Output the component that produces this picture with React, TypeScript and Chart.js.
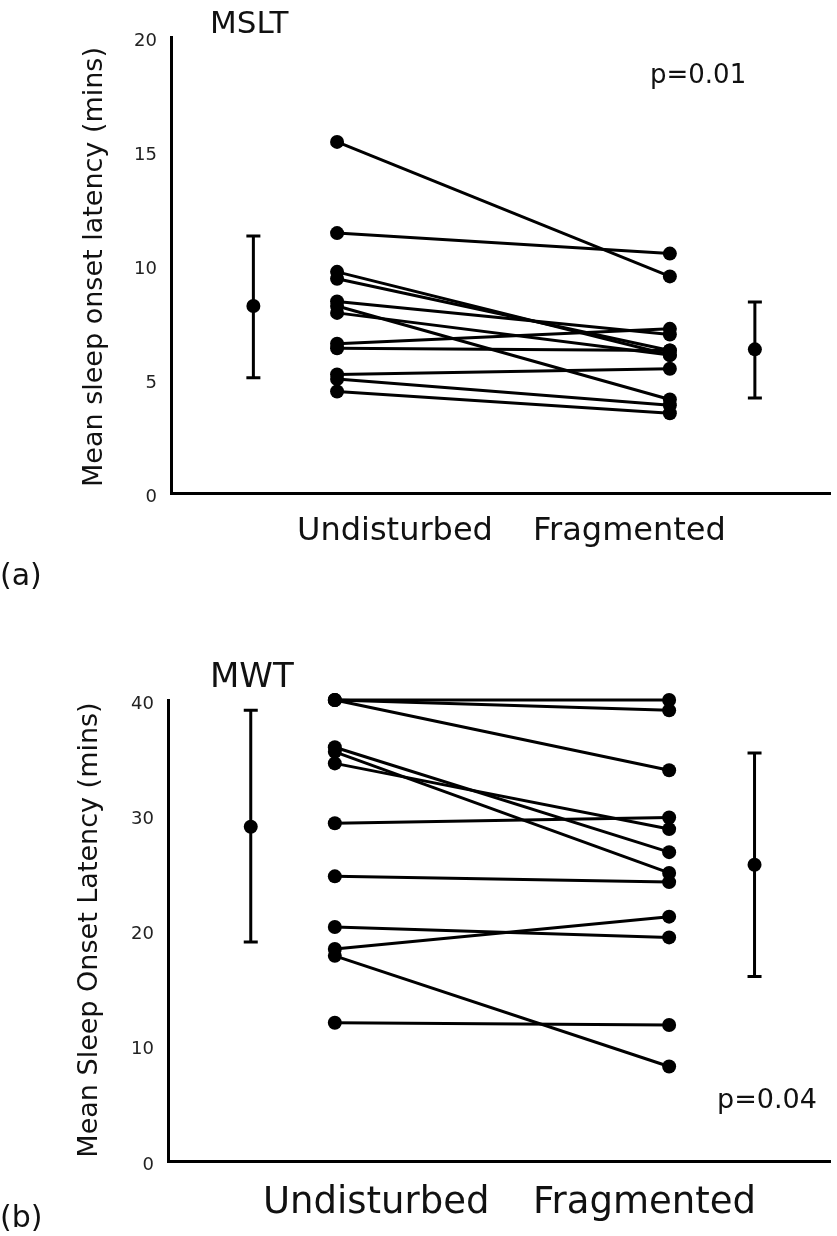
import React, { useEffect, useRef } from "react";
import { Chart, registerables } from "chart.js";

Chart.register(...registerables);

// ---------------- data ----------------
const CATEGORIES = ["Undisturbed", "Fragmented"];

// Panel (a): MSLT, one value per subject
const MSLT_UNDISTURBED = [15.4, 11.4, 9.7, 9.4, 8.4, 8.2, 7.9, 6.55, 6.35, 5.2, 5.0, 4.45];
const MSLT_FRAGMENTED = [9.5, 10.5, 6.05, 6.25, 6.95, 4.1, 6.05, 7.2, 6.25, 5.45, 3.85, 3.5];
const MSLT_MEAN = [8.2, 6.3];
const MSLT_LOW = [5.05, 4.17];
const MSLT_HIGH = [11.27, 8.38];
const MSLT_TICKS = [0, 5, 10, 15, 20];

// Panel (b): MWT, one value per subject
const MWT_UNDISTURBED = [40, 40, 40, 35.9, 35.5, 34.5, 29.3, 24.7, 20.3, 18.4, 17.8, 12];
const MWT_FRAGMENTED = [40, 39.1, 33.9, 26.8, 25.0, 28.8, 29.8, 24.2, 19.4, 21.2, 8.2, 11.8];
const MWT_MEAN = [29.0, 25.7];
const MWT_LOW = [19.0, 16.0];
const MWT_HIGH = [39.1, 35.4];
const MWT_TICKS = [0, 10, 20, 30, 40];

// ---------------- layout ----------------
const FONT = '"DejaVu Sans", "Liberation Sans", sans-serif';
const X_POS = { meanU: 1.25, undisturbed: 2.52, fragmented: 7.57, meanF: 8.86 };
const W = 837;

Chart.defaults.font.family = FONT;
Chart.defaults.font.size = 18;
Chart.defaults.color = "#222";

type TextItem = { text: string; x: number; y: number; size: number; rotate?: boolean };

const errorBarPlugin = {
  id: "errorBars",
  afterDatasetsDraw(chart: any, _args: any, opts: any) {
    const { ctx } = chart;
    const xs = chart.scales.x;
    const ys = chart.scales.y;
    ctx.save();
    ctx.strokeStyle = "#000";
    ctx.lineWidth = 3;
    opts.xs.forEach((xv: number, i: number) => {
      const px = xs.getPixelForValue(xv);
      const pl = ys.getPixelForValue(opts.low[i]);
      const ph = ys.getPixelForValue(opts.high[i]);
      ctx.beginPath();
      ctx.moveTo(px, pl);
      ctx.lineTo(px, ph);
      ctx.moveTo(px - 7, pl);
      ctx.lineTo(px + 7, pl);
      ctx.moveTo(px - 7, ph);
      ctx.lineTo(px + 7, ph);
      ctx.stroke();
    });
    ctx.restore();
  },
};

const textPlugin = {
  id: "annot",
  afterDraw(chart: any, _args: any, opts: any) {
    const { ctx } = chart;
    ctx.save();
    ctx.fillStyle = "#111";
    (opts.items as TextItem[]).forEach((t) => {
      ctx.font = `${t.size}px ${FONT}`;
      if (t.rotate) {
        ctx.save();
        ctx.translate(t.x, t.y);
        ctx.rotate(-Math.PI / 2);
        ctx.textAlign = "center";
        ctx.textBaseline = "middle";
        ctx.fillText(t.text, 0, 0);
        ctx.restore();
      } else {
        ctx.textAlign = "left";
        ctx.textBaseline = "alphabetic";
        ctx.fillText(t.text, t.x, t.y);
      }
    });
    ctx.restore();
  },
};

type PanelProps = {
  top: number;
  height: number;
  axisLeft: number;
  areaTop: number;
  areaBottom: number;
  yMax: number;
  ticks: number[];
  undisturbed: number[];
  fragmented: number[];
  mean: number[];
  low: number[];
  high: number[];
  texts: TextItem[];
};

function Panel(p: PanelProps) {
  const ref = useRef<HTMLCanvasElement | null>(null);
  useEffect(() => {
    if (!ref.current) return;
    const subjectSets = p.undisturbed.map((u, i) => ({
      type: "line" as const,
      data: [
        { x: X_POS.undisturbed, y: u },
        { x: X_POS.fragmented, y: p.fragmented[i] },
      ],
      borderColor: "#000",
      borderWidth: 3,
      pointRadius: 7,
      pointStyle: "circle",
      pointBackgroundColor: "#000",
      pointBorderColor: "#000",
      pointBorderWidth: 0,
      showLine: true,
      clip: false as any,
    }));
    const meanSet = {
      type: "scatter" as const,
      data: [
        { x: X_POS.meanU, y: p.mean[0] },
        { x: X_POS.meanF, y: p.mean[1] },
      ],
      pointRadius: 7,
      pointBackgroundColor: "#000",
      pointBorderColor: "#000",
      pointBorderWidth: 0,
      showLine: false,
      clip: false as any,
    };
    const chart = new Chart(ref.current, {
      type: "scatter",
      data: { datasets: [...subjectSets, meanSet] as any },
      plugins: [errorBarPlugin, textPlugin],
      options: {
        responsive: false,
        animation: false,
        devicePixelRatio: 1,
        layout: { padding: { top: p.areaTop, left: 0, right: 0, bottom: 0 } },
        plugins: {
          legend: { display: false },
          tooltip: { enabled: false },
          errorBars: { xs: [X_POS.meanU, X_POS.meanF], low: p.low, high: p.high },
          annot: { items: p.texts },
        } as any,
        scales: {
          x: {
            type: "linear",
            min: 0,
            max: 10,
            grid: { display: false, drawTicks: false },
            ticks: { display: false },
            border: { color: "#000", width: 3 },
            afterFit: (s: any) => {
              s.height = p.height - p.areaBottom;
            },
          },
          y: {
            type: "linear",
            min: 0,
            max: p.yMax,
            afterBuildTicks: (s: any) => {
              s.ticks = p.ticks.map((v) => ({ value: v }));
            },
            grid: { display: false, drawTicks: false },
            border: { color: "#000", width: 3 },
            ticks: {
              font: () => ({ family: FONT, size: 18 }),
              color: "#222",
              padding: 14,
              labelOffset: 4,
            },
            afterFit: (s: any) => {
              s.width = p.axisLeft;
            },
          },
        },
      } as any,
    });
    return () => chart.destroy();
  }, []);
  return (
    <canvas
      ref={ref}
      width={W}
      height={p.height}
      style={{ position: "absolute", left: 0, top: p.top, width: W, height: p.height }}
    />
  );
}

export default function App() {
  return (
    <div style={{ position: "absolute", left: 0, top: 0, width: W, height: 1236, background: "#fff" }}>
      <Panel
        top={0}
        height={600}
        axisLeft={171}
        areaTop={37}
        areaBottom={493}
        yMax={20}
        ticks={MSLT_TICKS}
        undisturbed={MSLT_UNDISTURBED}
        fragmented={MSLT_FRAGMENTED}
        mean={MSLT_MEAN}
        low={MSLT_LOW}
        high={MSLT_HIGH}
        texts={[
          { text: "MSLT", x: 210, y: 33, size: 31 },
          { text: "p=0.01", x: 650, y: 83, size: 26 },
          { text: CATEGORIES[0], x: 297, y: 540, size: 32 },
          { text: CATEGORIES[1], x: 533, y: 540, size: 32 },
          { text: "(a)", x: 0, y: 585, size: 30 },
          { text: "Mean sleep onset latency (mins)", x: 95, y: 267, size: 27, rotate: true },
        ]}
      />
      <Panel
        top={600}
        height={636}
        axisLeft={168}
        areaTop={100}
        areaBottom={561}
        yMax={40}
        ticks={MWT_TICKS}
        undisturbed={MWT_UNDISTURBED}
        fragmented={MWT_FRAGMENTED}
        mean={MWT_MEAN}
        low={MWT_LOW}
        high={MWT_HIGH}
        texts={[
          { text: "MWT", x: 210, y: 87, size: 34 },
          { text: "p=0.04", x: 717, y: 508, size: 27 },
          { text: CATEGORIES[0], x: 263, y: 613, size: 37 },
          { text: CATEGORIES[1], x: 533, y: 613, size: 37 },
          { text: "(b)", x: 0, y: 627, size: 30 },
          { text: "Mean Sleep Onset Latency (mins)", x: 90, y: 330, size: 27, rotate: true },
        ]}
      />
    </div>
  );
}
